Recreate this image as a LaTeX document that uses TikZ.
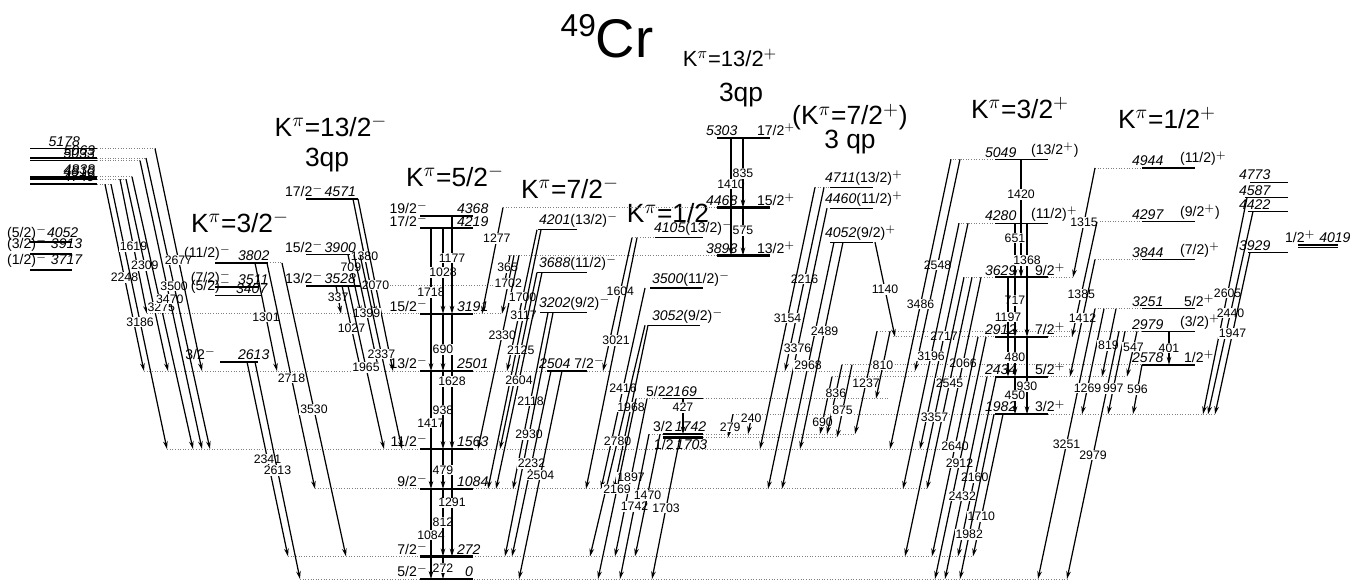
\documentclass[tikz,border=0pt]{standalone}
\usepackage{fontspec}
\setmainfont{Liberation Sans}
\usetikzlibrary{arrows.meta}

\begin{document}
\begin{tikzpicture}[x=0.02cm,y=-0.02cm]

    % Estilos
    \tikzset{
        lev/.style={line width=1.3pt},
        levthin/.style={line width=0.7pt},
        levmid/.style={line width=0.95pt},
        ext/.style={densely dotted, gray, line width=0.5pt},
        gam/.style={line width=0.7pt, -{Stealth[length=4.5pt,width=2.6pt]}},
        glab/.style={font=\fontsize{7}{7}\selectfont, fill=white, inner sep=0.5pt},
        elab/.style={font=\fontsize{8}{8}\selectfont\itshape, inner sep=1pt},
        slab/.style={font=\fontsize{8}{8}\selectfont, inner sep=1pt},
        kband/.style={font=\fontsize{15}{15}\selectfont, inner sep=0pt}
    }

    \useasboundingbox (0,0) rectangle (1367,583);

    % --------------------
    % Titulo e bandas
    % --------------------
    \node (title) at (607,36) {{\fontsize{18}{18}\selectfont\raisebox{12pt}{49}}{\fontsize{31}{31}\selectfont Cr}};

    \node[kband] (k132m) at (331,126) {K$^{\pi}$=13/2$^{-}$};
    \node[kband] (q132m) at (327,160) {3qp};
    \node[kband] (k52m) at (455,176) {K$^{\pi}$=5/2$^{-}$};
    \node[kband] (k72m) at (570,188) {K$^{\pi}$=7/2$^{-}$};
    \node[kband] (k32m) at (240,222) {K$^{\pi}$=3/2$^{-}$};
    \node[kband] (k12m) at (668,213) {K$^{\pi}$=1/2};
    \node[kband, font=\fontsize{12.5}{12.5}\selectfont] (k132p) at (730,58) {K$^{\pi}$=13/2$^{+}$};
    \node[kband] (q132p) at (741,95) {3qp};
    \node[kband] (k72p) at (850,117) {(K$^{\pi}$=7/2$^{+}$)};
    \node[kband] (q72p) at (850,142) {3 qp};
    \node[kband] (k32p) at (1020,108) {K$^{\pi}$=3/2$^{+}$};
    \node[kband] (k12p) at (1167,118) {K$^{\pi}$=1/2$^{+}$};

    % niveis em keV a partir daqui
    \begin{scope}[shift={(0,579)}, y=0.0016672cm]

    % --------------------
    % Linhas pontilhadas
    % --------------------
    \foreach \xa/\xb/\e in {300/1067/0, 288/973/272, 315/927/1084, 167/945/1563,
        144/915/2501, 147/502/3191, 358/504/3528, 262/282/3802,
        97/155/5178, 97/146/5063, 97/140/5033, 97/132/4838, 97/126/4810, 97/111/4749,
        508/717/3893, 503/717/4468, 632/655/4105, 636/663/2169, 703/890/2169,
        649/663/1742, 703/855/1742, 703/837/1703, 815/830/4711,
        893/995/2912, 1048/1072/2912, 832/995/2434, 1048/1127/2434,
        733/995/1982, 1048/1215/1982, 842/1142/2578, 877/1143/2979,
        963/995/3629, 1048/1073/3629, 958/995/4280, 950/995/5049,
        1095/1142/4944, 1097/1142/4297, 1095/1142/3844, 1095/1142/3251}
        \draw[ext] (\xa,\e) -- (\xb,\e);

    % --------------------
    % Niveis
    % --------------------
    \foreach \xa/\xb/\e in {420/473/0, 420/473/272, 420/473/1084, 420/473/1563,
        420/473/2501, 420/473/3191, 420/473/4219, 420/473/4368,
        30/72/4052, 30/72/3913, 30/72/3717,
        220/258/2613, 215/258/3511, 306/360/3528, 547/587/2504,
        663/703/1742, 663/703/1703,
        717/770/5303, 717/770/4468, 717/770/3893,
        995/1048/3629, 995/1048/2912, 995/1048/2434, 995/1048/1982,
        1142/1195/2578}
        \draw[lev] (\xa,\e) -- (\xb,\e);

    \foreach \e in {5178,5063,5033,4838,4810,4749}
        \draw[levmid] (30,\e) -- (97,\e);

    \foreach \xa/\xb/\e in {215/262/3407, 215/268/3802,
        306/358/4571, 306/358/3900,
        538/577/4201, 537/587/3688, 540/587/3202,
        655/703/4105, 650/703/3500, 648/700/3052, 663/703/2169,
        830/873/4711, 830/873/4460, 830/873/4052,
        995/1048/5049, 995/1048/4280,
        1142/1195/4944, 1142/1195/4297, 1142/1195/3844, 1142/1195/3251, 1142/1195/2979,
        1250/1288/4773, 1245/1288/4587, 1248/1288/4422, 1248/1288/3929,
        1298/1338/4019, 1298/1338/3989}
        \draw[levthin] (\xa,\e) -- (\xb,\e);

    % --------------------
    % Transicoes gama
    % --------------------
    \foreach \xa/\ea/\xb/\eb/\ps/\lbl in {
        105/4749/144/2501/0.50/2248, 111/4749/167/1563/0.52/3186,
        120/4810/147/3191/0.50/1619, 126/4810/168/2501/0.45/2309,
        132/4838/193/1563/0.48/3275, 140/5033/202/1563/0.48/3470,
        146/5063/210/1563/0.44/3500, 155/5178/202/2501/0.50/2677,
        247/2613/288/272/0.50/2341, 255/2613/300/0/0.50/2613,
        255/3802/277/2501/0.50/1301, 267/3802/315/1084/0.51/2718,
        282/3802/346/272/0.50/3530,
        353/4571/376/3191/0.50/1380, 358/4571/393/2501/0.50/2070,
        348/3900/361/3191/0.22/709, 354/3900/379/2501/0.50/1399,
        360/3900/402/1563/0.51/2337, 336/3528/341/3191/0.43/337,
        342/3528/361/2501/0.50/1027, 348/3528/384/1563/0.50/1965,
        443/272/443/0/0.50/272, 431/1084/431/0/0.51/1084,
        443/1084/443/272/0.50/812, 452/1563/452/272/0.50/1291,
        443/1563/443/1084/0.53/479, 431/2501/431/1084/0.44/1417,
        443/2501/443/1563/0.50/938, 452/3191/452/1563/0.50/1628,
        443/3191/443/2501/0.62/690, 431/4219/431/2501/0.45/1718,
        443/4219/443/3191/0.52/1028, 452/4368/452/3191/0.43/1177,
        503/4468/482/3191/0.29/1277, 510/3893/504/3528/0.40/365,
        514/3893/502/3191/0.48/1702, 519/3893/478/1563/0.41/2330,
        537/4201/507/2501/0.48/1700, 541/4201/488/1084/0.33/3117,
        537/3688/500/1563/0.44/2125, 542/3688/496/1084/0.50/2604,
        548/3202/513/1084/0.50/2118, 553/3202/505/272/0.50/2930,
        551/2504/512/272/0.50/2232, 562/2504/519/0/0.50/2504,
        632/4105/603/2501/0.40/1604, 637/4105/586/1084/0.41/3021,
        645/3500/601/1084/0.50/2416, 648/3052/614/1084/0.50/1968,
        645/3052/590/272/0.50/2780, 647/2169/615/272/0.50/1897,
        636/2169/598/0/0.50/2169, 649/1742/620/0/0.50/1742,
        660/1742/635/272/0.50/1470, 680/1703/652/0/0.50/1703,
        683/2169/683/1742/0.25/427,
        731/5303/731/3893/0.39/1410, 743/5303/743/4468/0.51/835,
        743/4468/743/3893/0.48/575,
        824/4711/785/2501/0.50/2216, 815/4711/760/1563/0.50/3154,
        827/4460/768/1084/0.50/3376, 834/4052/782/1084/0.50/2968,
        843/4052/800/1563/0.43/2489, 875/4052/895/2912/0.50/1140,
        733/1982/728/1703/0.55/279, 752/1982/748/1742/0.20/240,
        832/2434/820/1742/0.79/690, 842/2578/827/1742/0.41/836,
        852/2578/837/1703/0.63/875, 877/2979/855/1742/0.50/1237,
        890/2979/876/2169/0.50/810,
        1021/5049/1021/3629/0.30/1420, 1015/4280/1015/3629/0.27/651,
        1027/4280/1027/2912/0.33/1368, 1015/3629/1015/2912/0.39/717,
        1008/3629/1008/2434/0.40/1197, 1015/2912/1015/2434/0.52/480,
        1027/2912/1027/1982/0.64/930, 1015/2434/1015/1982/0.50/450,
        960/5049/915/2501/0.50/2548, 951/5049/890/1563/0.50/3486,
        968/4280/920/1563/0.50/2717, 959/4280/903/1084/0.50/3196,
        981/3629/945/1563/0.50/2066, 972/3629/927/1084/0.50/2545,
        964/3629/905/272/0.50/3357, 978/2912/932/272/0.50/2640,
        986/2912/935/0/0.52/2912, 996/2434/958/272/0.56/2160,
        987/2434/945/0/0.59/2432, 1003/1982/973/272/0.72/1710,
        994/1982/960/0/0.73/1982,
        1095/4944/1073/3629/0.50/1315, 1097/4297/1072/2912/0.63/1385,
        1095/3844/1070/2434/0.50/1412, 1095/3251/1038/0/0.50/3251,
        1104/3251/1082/1982/0.75/1269, 1116/3251/1102/2434/0.54/819,
        1119/2979/1067/0/0.50/2979, 1125/2979/1108/1982/0.69/997,
        1137/2979/1127/2434/0.35/547, 1142/2578/1133/1982/0.50/596,
        1169/2979/1169/2578/0.50/401,
        1247/4587/1203/1982/0.44/2605, 1253/4422/1208/1982/0.50/2440,
        1250/3929/1215/1982/0.50/1947}
        \draw[gam] (\xa,\ea) -- node[glab, pos=\ps] {\lbl} (\xb,\eb);

    % --------------------
    % Rotulos dos niveis
    % --------------------
    % grupo da esquerda
    \node[elab, anchor=south east] at (82,5178) {5178};
    \foreach \e in {5063,5033,4838,4810,4749}
        \node[elab, anchor=south east] at (97,\e) {\e};
    \node[slab, anchor=south west] at (5,4052) {(5/2)$^-$\textit{4052}};
    \node[slab, anchor=south west] at (5,3913) {(3/2)$^-$ \textit{3913}};
    \node[slab, anchor=south west] at (5,3717) {(1/2)$^-$ \textit{3717}};

    % K=3/2-
    \node[slab, anchor=south east] at (233,3802) {(11/2)$^-$};
    \node[elab, anchor=south west] at (236,3802) {3802};
    \node[slab, anchor=south east] at (233,3511) {(7/2)$^-$};
    \node[elab, anchor=south west] at (236,3511) {3511};
    \node[slab, anchor=south east] at (233,3407) {(5/2)$^-$};
    \node[elab, anchor=south west] at (234,3407) {3407};
    \node[slab, anchor=south east] at (218,2613) {3/2$^-$};
    \node[elab, anchor=south west] at (236,2613) {2613};

    % K=13/2- 3qp
    \node[slab, anchor=south west] at (283,4571) {17/2$^-$};
    \node[elab, anchor=south east] at (358,4571) {4571};
    \node[slab, anchor=south west] at (283,3900) {15/2$^-$};
    \node[elab, anchor=south east] at (358,3900) {3900};
    \node[slab, anchor=south west] at (283,3528) {13/2$^-$};
    \node[elab, anchor=south east] at (358,3528) {3528};

    % K=5/2- (fundamental)
    \foreach \e/\s in {0/5,272/7,1084/9,1563/11,2501/13,3191/15,4219/17,4368/19}
        \node[slab, anchor=south east] at (430,\e) {\s/2$^-$};
    \foreach \e in {272,1084,1563,2501,3191,4219,4368}
        \node[elab, anchor=south west] at (455,\e) {\e};
    \node[elab, anchor=south west] at (463,0) {0};

    % K=7/2-
    \node[slab, anchor=south west] at (537,4201) {\textit{4201}(13/2)$^-$};
    \node[slab, anchor=south west] at (537,3688) {\textit{3688}(11/2)$^-$};
    \node[slab, anchor=south west] at (537,3202) {\textit{3202}(9/2)$^-$};
    \node[slab, anchor=south west] at (537,2504) {\textit{2504} 7/2$^-$};

    % K=1/2-
    \node[slab, anchor=south west] at (652,4105) {\textit{4105}(13/2)$^-$};
    \node[slab, anchor=south west] at (650,3500) {\textit{3500}(11/2)$^-$};
    \node[slab, anchor=south west] at (650,3052) {\textit{3052}(9/2)$^-$};
    \node[slab, anchor=south west] at (644,2169) {5/2\textit{2169}};
    \node[slab, anchor=south west] at (651,1742) {3/2\,\textit{1742}};
    \node[slab, anchor=north west] at (652,1703) {1/2\,\textit{1703}};

    % K=13/2+ 3qp
    \foreach \e/\s in {5303/17,4468/15,3893/13} {
        \node[elab, anchor=south west] at (704,\e) {\e};
        \node[slab, anchor=south west] at (755,\e) {\s/2$^+$};
    }

    % (K=7/2+) 3qp
    \node[slab, anchor=south west] at (823,4711) {\textit{4711}(13/2)$^+$};
    \node[slab, anchor=south west] at (823,4460) {\textit{4460}(11/2)$^+$};
    \node[slab, anchor=south west] at (823,4052) {\textit{4052}(9/2)$^+$};

    % K=3/2+
    \foreach \e in {5049,4280,3629,2912,2434,1982}
        \node[elab, anchor=south west] at (983,\e) {\e};
    \node[slab, anchor=south west] at (1029,5049) {(13/2$^+$)};
    \node[slab, anchor=south west] at (1029,4280) {(11/2)$^+$};
    \node[slab, anchor=south west] at (1033,3629) {9/2$^+$};
    \node[slab, anchor=south west] at (1033,2912) {7/2$^+$};
    \node[slab, anchor=south west] at (1033,2434) {5/2$^+$};
    \node[slab, anchor=south west] at (1033,1982) {3/2$^+$};

    % K=1/2+
    \foreach \e in {4944,4297,3844,3251,2979,2578}
        \node[elab, anchor=south west] at (1130,\e) {\e};
    \node[slab, anchor=south west] at (1178,4944) {(11/2)$^+$};
    \node[slab, anchor=south west] at (1178,4297) {(9/2$^+$)};
    \node[slab, anchor=south west] at (1178,3844) {(7/2)$^+$};
    \node[slab, anchor=south west] at (1182,3251) {5/2$^+$};
    \node[slab, anchor=south west] at (1178,2979) {(3/2)$^+$};
    \node[slab, anchor=south west] at (1182,2578) {1/2$^+$};

    % grupo da direita
    \foreach \e in {4773,4587,4422,3929}
        \node[elab, anchor=south west] at (1237,\e) {\e};
    \node[slab, anchor=south west] at (1283,4019) {1/2$^+$ \textit{4019}};

    \end{scope}

\end{tikzpicture}
\end{document}
